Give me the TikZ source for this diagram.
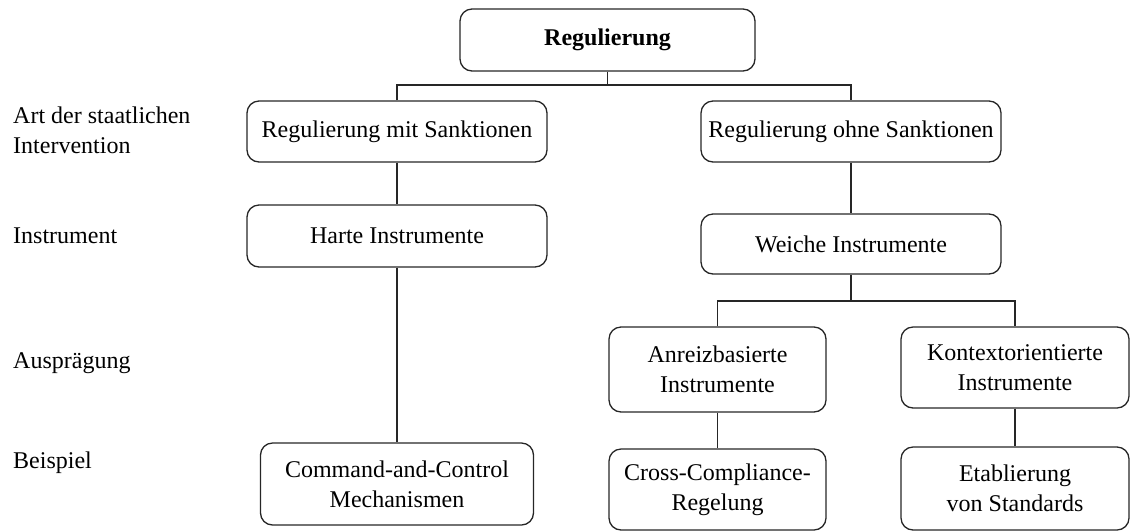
\documentclass[tikz,border=0pt]{standalone}
\usepackage{fontspec}
\setmainfont{Liberation Serif}
\definecolor{linegray}{gray}{0.15}
\begin{document}
\begin{tikzpicture}[x=1pt,y=-1pt,
  box/.style={draw=linegray, line width=1.3pt, rounded corners=12pt, align=center,
    inner sep=0pt, font=\fontsize{24}{30}\selectfont},
  conn/.style={draw=linegray, line width=1.3pt},
  lab/.style={inner sep=0pt, align=left, font=\fontsize{24}{30}\selectfont}]
\useasboundingbox (0,0) rectangle (1131,531);

% level labels on the left
\node[lab, anchor=north west] (ebene1) at (13,106.5) {Art der staatlichen\\Intervention};
\node[lab, anchor=base west] (ebene2) at (13,243) {Instrument};
\node[lab, anchor=base west] (ebene3) at (13,368) {Ausprägung};
\node[lab, anchor=base west] (ebene4) at (13,468) {Beispiel};

% boxes
\node[box, minimum width=295, minimum height=62] (top) at (607.5,40) {\textbf{Regulierung}};
\node[box, minimum width=300, minimum height=61] (mit) at (397,131.5) {Regulierung mit Sanktionen};
\node[box, minimum width=300, minimum height=61] (ohne) at (851,131.5) {Regulierung ohne Sanktionen};
\node[box, minimum width=300, minimum height=62] (hart) at (397,236) {Harte Instrumente};
\node[box, minimum width=300, minimum height=60] (weich) at (851,244) {Weiche Instrumente};
\node[box, minimum width=217, minimum height=85] (anreiz) at (717.5,369.5) {Anreizbasierte\\Instrumente};
\node[box, minimum width=228, minimum height=81] (kontext) at (1015,367.5) {Kontextorientierte\\Instrumente};
\node[box, minimum width=273, minimum height=82] (cac) at (397,484) {Command-and-Control\\Mechanismen};
\node[box, minimum width=217, minimum height=81] (cross) at (717.5,489.5) {Cross-Compliance-\\Regelung};
\node[box, minimum width=228, minimum height=83] (etab) at (1015,488.5) {Etablierung\\von Standards};

% connectors
\coordinate (bus1) at (607.5,85);
\coordinate (bus2) at (851,301);
\draw[conn] (top.south) -- (bus1);
\draw[conn] (mit.north) |- (bus1) -| (ohne.north);
\draw[conn] (mit.south) -- (hart.north);
\draw[conn] (hart.south) -- (cac.north);
\draw[conn] (ohne.south) -- (weich.north);
\draw[conn] (weich.south) -- (bus2);
\draw[conn] (anreiz.north) |- (bus2) -| (kontext.north);
\draw[conn] (anreiz.south) -- (cross.north);
\draw[conn] (kontext.south) -- (etab.north);
\end{tikzpicture}
\end{document}
